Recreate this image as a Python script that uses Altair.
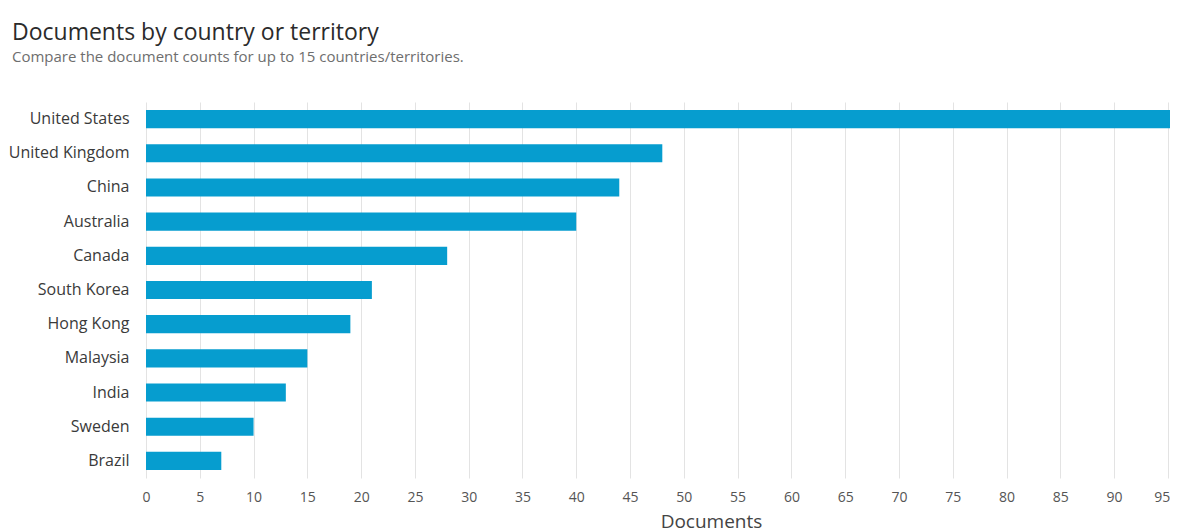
import altair as alt
import pandas as pd

countries = ["United States", "United Kingdom", "China", "Australia", "Canada",
             "South Korea", "Hong Kong", "Malaysia", "India", "Sweden", "Brazil"]
documents = [97, 48, 44, 40, 28, 21, 19, 15, 13, 10, 7]
tick_values = list(range(0, 100, 5))

df = pd.DataFrame({"country": countries, "documents": documents})

FONT = "Open Sans"

chart = alt.Chart(df).mark_bar(color="#069dcf", clip=True).encode(
    x=alt.X("documents:Q",
            scale=alt.Scale(domain=[0, 95.2], nice=False, zero=True),
            axis=alt.Axis(values=tick_values, title="Documents", grid=True,
                          gridColor="#e3e3e3", gridWidth=1, ticks=False, domain=False,
                          labelFontSize=14, labelColor="#555555", labelPadding=12,
                          labelAlign={"condition": {"test": "datum.value >= 95", "value": "right"},
                                      "value": "center"},
                          labelOffset={"condition": {"test": "datum.value >= 95", "value": 2},
                                       "value": 0},
                          labelFont=FONT, titleFont=FONT, titleFontSize=19,
                          titleFontWeight="normal", titleColor="#444444",
                          titleX=565, titleY=43, titleBaseline="middle")),
    y=alt.Y("country:N", sort=countries,
            scale=alt.Scale(paddingInner=0.47, paddingOuter=0.235),
            axis=alt.Axis(title=None, ticks=False, domain=False, grid=False,
                          labelFontSize=16, labelColor="#3a3a3a", labelPadding=17,
                          labelFont=FONT)),
).properties(
    width=1024,
    height=376,
    autosize=alt.AutoSizeParams(type="none"),
    padding={"left": 138, "top": 94, "right": 0, "bottom": 54},
    title=alt.TitleParams(
        text="Documents by country or territory",
        subtitle="Compare the document counts for up to 15 countries/territories.",
        anchor="start", frame="group", dx=-134, offset=37,
        font=FONT, fontSize=23, fontWeight="normal", color="#2b2b2b",
        subtitleFont=FONT, subtitleFontSize=15, subtitleColor="#6e6e6e",
        subtitlePadding=5,
    ),
).configure_view(stroke=None)

chart.save("out.html", embed_options={"renderer": "svg", "actions": False})
